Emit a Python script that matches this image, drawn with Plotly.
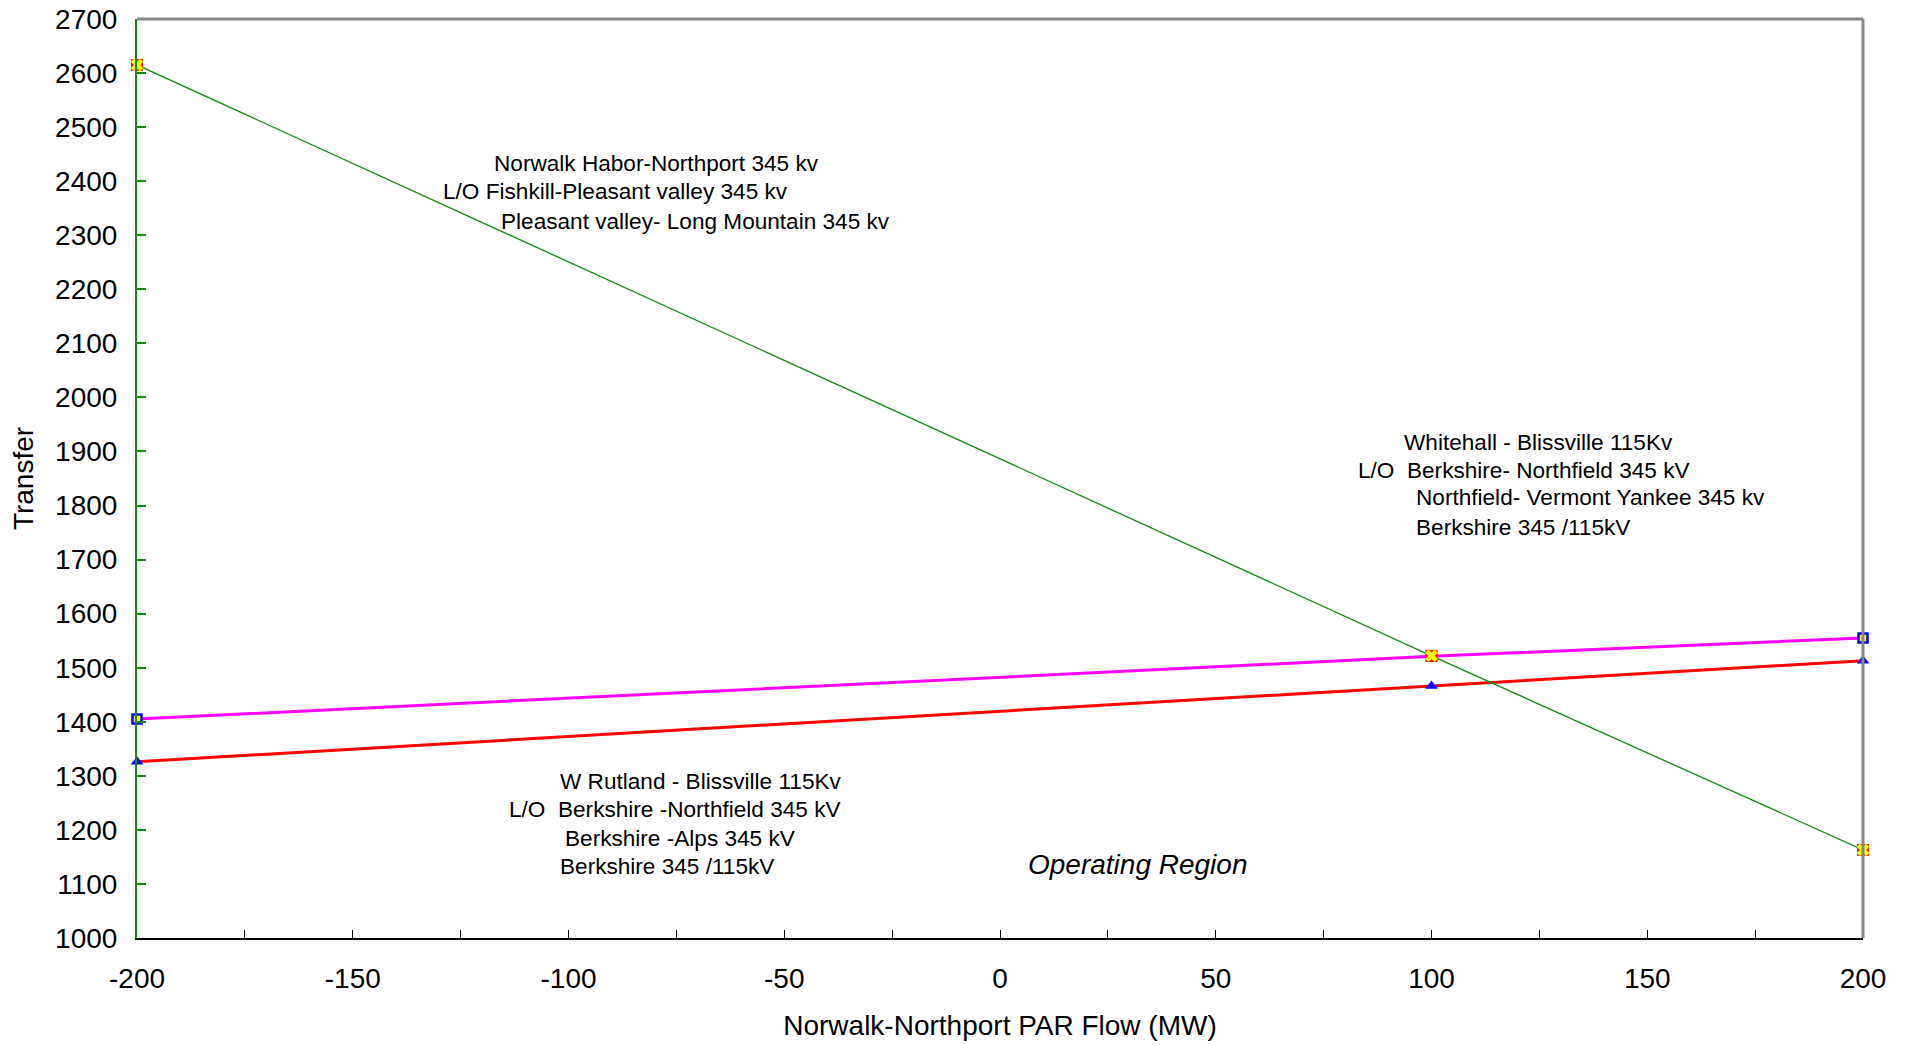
import plotly.graph_objects as go

# ---- data ----
par_flow = [-200, 100, 200]
norwalk_limit = [2615, 1522, 1163]      # green: Norwalk Habor-Northport
whitehall_limit = [1405, 1521, 1555]    # magenta: Whitehall - Blissville
rutland_limit = [1326, 1466, 1513]      # red: W Rutland - Blissville

y_ticks = list(range(1000, 2701, 100))
x_ticks = list(range(-200, 201, 50))

top_lines = ["Norwalk Habor-Northport 345 kv",
             "L/O Fishkill-Pleasant valley 345 kv",
             "Pleasant valley- Long Mountain 345 kv"]
right_lines = ["Whitehall - Blissville 115Kv",
               "L/O  Berkshire- Northfield 345 kV",
               "Northfield- Vermont Yankee 345 kv",
               "Berkshire 345 /115kV"]
bottom_lines = ["W Rutland - Blissville 115Kv",
                "L/O  Berkshire -Northfield 345 kV",
                "Berkshire -Alps 345 kV",
                "Berkshire 345 /115kV"]

FONT = "Liberation Sans, Arial, sans-serif"
W, H = 1911, 1045
OFF = 8  # page body margin
# target plot area on screen: x 137..1863, y 19..938
SX0, SX1, SY0, SY1 = 137, 1863, 19, 938
L = SX0 - OFF
T = SY0 - OFF
R = W + OFF - SX1
B = H + OFF - SY1
pw, ph = SX1 - SX0, SY1 - SY0

def px(xp):
    return (xp - SX0) / pw

def py(yp):
    return (SY1 - yp) / ph

fig = go.Figure()

fig.add_trace(go.Scatter(
    x=par_flow, y=rutland_limit, mode="lines+markers",
    line=dict(color="#FF0000", width=3),
    marker=dict(symbol="triangle-up", size=11, color="#0000FF"),
    showlegend=False, cliponaxis=False))
fig.add_trace(go.Scatter(
    x=par_flow, y=whitehall_limit, mode="lines+markers",
    line=dict(color="#FF00FF", width=3),
    marker=dict(symbol="square", size=9, color="#FFFF00",
                line=dict(color="#0000FF", width=2.5)),
    showlegend=False, cliponaxis=False))
fig.add_trace(go.Scatter(
    x=par_flow, y=norwalk_limit, mode="lines+markers",
    line=dict(color="#138A13", width=1.3),
    marker=dict(symbol="square", size=12, color="#FF2000", line=dict(width=0)),
    showlegend=False, cliponaxis=False))
fig.add_trace(go.Scatter(
    x=par_flow, y=norwalk_limit, mode="markers",
    marker=dict(symbol="x", size=11, color="#FFFF00", line=dict(width=0)),
    showlegend=False, cliponaxis=False))

# gray top/right frame
fig.add_shape(type="line", xref="paper", yref="paper", x0=0, x1=1, y0=1, y1=1,
              line=dict(color="#888888", width=3))
fig.add_shape(type="line", xref="paper", yref="paper", x0=1, x1=1, y0=0, y1=1,
              line=dict(color="#888888", width=3))

ann = []
def add_lines(lines, lefts, ys, size=22.6, italic=False):
    for t, xl, yc in zip(lines, lefts, ys):
        ann.append(dict(text=t, xref="paper", yref="paper", x=px(xl), y=py(yc),
                        xanchor="left", yanchor="middle", showarrow=False,
                        font=dict(family=FONT, size=size, color="#000000",
                                  style="italic" if italic else "normal")))

add_lines(top_lines, [492, 441, 499], [163, 192, 221])
add_lines(right_lines, [1402, 1356, 1414, 1414], [442, 470, 498, 527])
add_lines(bottom_lines, [558, 507, 563, 558], [781, 809, 838, 866])
add_lines(["Operating Region"], [1026], [864], size=28, italic=True)

fig.update_layout(
    width=W, height=H,
    margin=dict(l=L, r=R, t=T, b=B, pad=0),
    paper_bgcolor="white", plot_bgcolor="white",
    font=dict(family=FONT, size=28, color="#000000"),
    annotations=ann,
    xaxis=dict(
        range=[-200, 200], tickvals=x_ticks, ticktext=[str(v) for v in x_ticks],
        showgrid=False, zeroline=False, automargin=False,
        showline=True, linecolor="#000000", linewidth=1.5,
        ticks="inside", ticklen=8, tickwidth=1, tickcolor="#000000",
        minor=dict(dtick=25, tick0=-200, ticks="inside", ticklen=8, tickwidth=1, tickcolor="#000000"),
        ticklabelstandoff=15, ticklabeloverflow="allow",
        tickfont=dict(size=28),
        title=dict(text="Norwalk-Northport PAR Flow (MW)", font=dict(size=28), standoff=22),
    ),
    yaxis=dict(
        range=[1000, 2700], tickvals=y_ticks, ticktext=[str(v) for v in y_ticks],
        showgrid=False, zeroline=False, automargin=False,
        showline=True, linecolor="#138A13", linewidth=2,
        ticks="inside", ticklen=9, tickwidth=1.5, tickcolor="#138A13",
        ticklabelstandoff=12, ticklabeloverflow="allow",
        tickfont=dict(size=28),
        title=dict(text="Transfer", font=dict(size=28), standoff=16),
    ),
)

fig.write_html("out.html")
